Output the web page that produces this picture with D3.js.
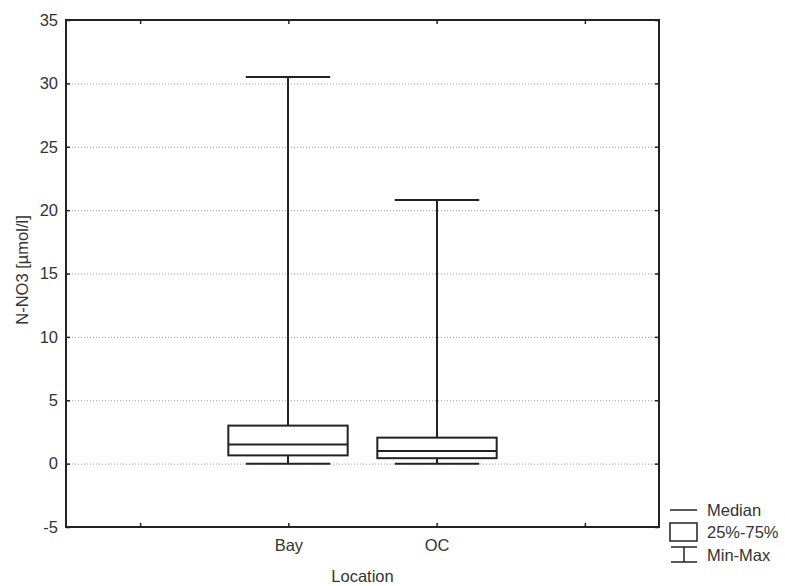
<!DOCTYPE html>
<html><head><meta charset="utf-8">
<script src="https://cdn.jsdelivr.net/npm/d3@7"></script>
<style>body{margin:0;background:#fff}svg{display:block}text{font-family:"Liberation Sans",Arial,sans-serif;fill:#333}</style>
</head><body><svg id="c" width="785" height="586"></svg>
<script>
const categories = ["", "Bay", "OC", " "];
const groups = ["Bay", "OC"];
const minVals = [0.0, 0.0];
const q1Vals = [0.65, 0.43];
const medianVals = [1.5, 1.0];
const q3Vals = [3.0, 2.05];
const maxVals = [30.5, 20.8];
const yTicks = [-5, 0, 5, 10, 15, 20, 25, 30, 35];
const legendLabels = ["Median", "25%-75%", "Min-Max"];

const FS = 16.5;
const svg = d3.select("#c");
const L = 66, R = 659, T = 20, B = 527;
const x = d3.scalePoint().domain(categories).range([L, R]).padding(0.5);
const y = d3.scaleLinear().domain([-5, 35]).range([B, T]);
const step = x.step();
const boxW = step * 0.805, capW = step * 0.57;

// grid
svg.append("g").selectAll("line").data(yTicks.filter(t => t > -5 && t < 35)).join("line")
  .attr("x1", L).attr("x2", R).attr("y1", d => y(d) + 0.5).attr("y2", d => y(d) + 0.5)
  .attr("stroke", "#9a9a9a").attr("stroke-width", 1).attr("stroke-dasharray", "1,2");

// axes
const axL = d3.axisLeft(y).tickValues(yTicks).tickSize(-4).tickPadding(8).tickFormat(d => String(d));
const axR = d3.axisRight(y).tickValues(yTicks).tickSize(-4).tickFormat("");
const axB = d3.axisBottom(x).tickSize(-4).tickPadding(12).tickFormat(d => d.trim());
const axT = d3.axisTop(x).tickSize(-4).tickFormat("");
function style(g){ g.select(".domain").remove(); g.selectAll(".tick line").attr("stroke","#222").attr("stroke-width",1.5); g.selectAll("text").attr("font-size",FS).attr("fill","#333").attr("font-family","Liberation Sans, Arial, sans-serif"); }
svg.append("g").attr("transform",`translate(${L},0)`).call(axL).call(style);
svg.append("g").attr("transform",`translate(${R},0)`).call(axR).call(style);
svg.append("g").attr("transform",`translate(0,${B})`).call(axB).call(style);
svg.append("g").attr("transform",`translate(0,${T})`).call(axT).call(style);
svg.append("rect").attr("x",L).attr("y",T).attr("width",R-L).attr("height",B-T)
  .attr("fill","none").attr("stroke","#222").attr("stroke-width",2);

// boxes
const data = groups.map((g,i)=>({g, min:minVals[i], q1:q1Vals[i], med:medianVals[i], q3:q3Vals[i], max:maxVals[i]}));
const bx = svg.append("g").attr("stroke","#222").attr("stroke-width",2).attr("fill","none");
data.forEach(d => {
  const cx = Math.round(x(d.g));
  bx.append("line").attr("x1",cx).attr("x2",cx).attr("y1",y(d.max)).attr("y2",y(d.q3));
  bx.append("line").attr("x1",cx).attr("x2",cx).attr("y1",y(d.q1)).attr("y2",y(d.min));
  bx.append("line").attr("x1",cx-capW/2).attr("x2",cx+capW/2).attr("y1",y(d.max)).attr("y2",y(d.max));
  bx.append("line").attr("x1",cx-capW/2).attr("x2",cx+capW/2).attr("y1",y(d.min)).attr("y2",y(d.min));
  bx.append("rect").attr("x",cx-boxW/2).attr("width",boxW).attr("y",y(d.q3)).attr("height",y(d.q1)-y(d.q3)).attr("fill","#fff");
  bx.append("line").attr("x1",cx-boxW/2).attr("x2",cx+boxW/2).attr("y1",y(d.med)).attr("y2",y(d.med));
});

// labels
svg.append("text").attr("x",(L+R)/2).attr("y",582).attr("text-anchor","middle").attr("font-size",FS).text("Location");
svg.append("text").attr("transform","translate(22,270) rotate(-90)").attr("text-anchor","middle").attr("dy","0.35em").attr("font-size",FS).text("N-NO3 [µmol/l]");

// legend
const lg = svg.append("g").attr("stroke","#222").attr("stroke-width",1.5).attr("fill","none");
lg.append("line").attr("x1",670).attr("x2",697).attr("y1",510).attr("y2",510);
lg.append("rect").attr("x",670).attr("y",523).attr("width",27).attr("height",18);
lg.append("line").attr("x1",671).attr("x2",697).attr("y1",547).attr("y2",547);
lg.append("line").attr("x1",671).attr("x2",697).attr("y1",562).attr("y2",562);
lg.append("line").attr("x1",684).attr("x2",684).attr("y1",547).attr("y2",562);
const ly = [510, 532, 555];
svg.append("g").selectAll("text").data(legendLabels).join("text")
  .attr("x",707).attr("y",(d,i)=>ly[i]).attr("dy","0.35em").attr("font-size",FS).text(d=>d);
</script></body></html>
